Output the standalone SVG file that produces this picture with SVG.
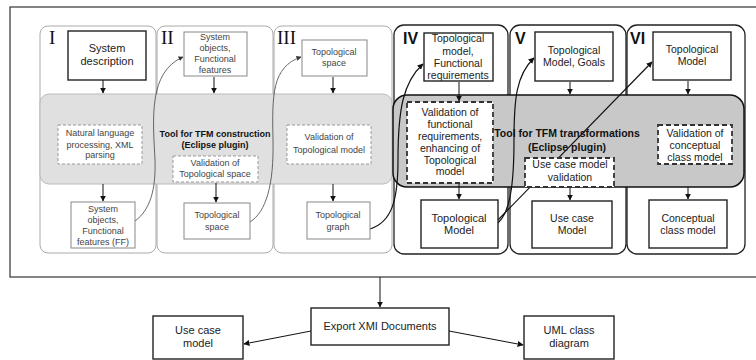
<svg xmlns="http://www.w3.org/2000/svg" width="756" height="360" viewBox="0 0 756 360">
<defs>
<marker id="ah" viewBox="0 0 10 10" refX="9" refY="5" markerWidth="6" markerHeight="6" orient="auto" markerUnits="userSpaceOnUse"><path d="M0,0 L10,5 L0,10 z" fill="#111"/></marker>
<marker id="ahs" viewBox="0 0 10 10" refX="9" refY="5" markerWidth="5" markerHeight="5" orient="auto" markerUnits="userSpaceOnUse"><path d="M0,0 L10,5 L0,10 z" fill="#333"/></marker>
</defs>
<style>
.pl{fill:#fff;stroke:#aaa;stroke-width:1}
.pd{fill:#fff;stroke:#222;stroke-width:1.3}
.bl{fill:#fff;stroke:#888;stroke-width:1}
.bd{fill:#fff;stroke:#222;stroke-width:1.4}
.dl{fill:#fff;stroke:#999;stroke-width:1;stroke-dasharray:3,2}
.dd{fill:#fff;stroke:#333;stroke-width:1.8;stroke-dasharray:5,3}
text{font-family:"Liberation Sans",Arial,sans-serif;text-anchor:middle}
.tl{font-size:9px;fill:#444}
.td{font-size:10.5px;fill:#222}
.tb{font-size:10.5px;fill:#111;font-weight:bold}
.tbs{font-size:9px;fill:#111;font-weight:bold}
.rs{font-family:"Liberation Serif","Times New Roman",serif;font-size:19px;fill:#111;text-anchor:start}
.rb{font-family:"Liberation Sans",Arial,sans-serif;font-size:16px;font-weight:bold;fill:#111;text-anchor:start}
.va{stroke:#111;stroke-width:1;fill:none;marker-end:url(#ah)}
.cl{stroke:#444;stroke-width:0.8;fill:none;marker-end:url(#ahs)}
.cd{stroke:#111;stroke-width:1.2;fill:none;marker-end:url(#ah)}
</style>
<rect width="756" height="360" fill="#fff"/>
<rect id="frame" x="10" y="7" width="756" height="270" fill="none" stroke="#333" stroke-width="1.2"/>

<g id="panels">
<rect x="40" y="26" width="116" height="227" rx="8" class="pl"/>
<rect x="157" y="26" width="116" height="227" rx="8" class="pl"/>
<rect x="274" y="26" width="118" height="227" rx="8" class="pl"/>
<rect x="394" y="25" width="114" height="229" rx="10" class="pd"/>
<rect x="510" y="25" width="116" height="229" rx="10" class="pd"/>
<rect x="627" y="25" width="118" height="229" rx="10" class="pd"/>
</g>
<g id="bands">
<rect x="40" y="94" width="352" height="90" rx="9" fill="#e0e0e0" stroke="#bbb" stroke-width="1"/>
<rect x="393" y="95" width="351" height="92" rx="14" fill="#c8c8c8" stroke="#111" stroke-width="1.5"/>
</g>
<g id="numerals">
<text x="49" y="44" class="rs">I</text>
<text x="161" y="44" class="rs">II</text>
<text x="277" y="44" class="rs">III</text>
<text x="403" y="44" class="rb">IV</text>
<text x="515" y="44" class="rb">V</text>
<text x="630" y="44" class="rb">VI</text>
</g>

<g id="connectors">
<path d="M103,80 V93" class="va"/>
<path d="M103,184 V201" class="va"/>
<path d="M214,77 V93" class="va"/>
<path d="M216,183 V202" class="va"/>
<path d="M333,77 V93" class="va"/>
<path d="M333,184 V201" class="va"/>
<path d="M459,82 V101" class="va"/>
<path d="M459,184 V199" class="va"/>
<path d="M570,82 V94" class="va"/>
<path d="M570,188 V200" class="va"/>
<path d="M688,81 V94" class="va"/>
<path d="M688,187 V199" class="va"/>
<path d="M135,221 C150,210 156,190 155,160 C153,120 148,72 183,57" class="cl"/>
<path d="M250,222 C266,212 274,185 273,140 C272,95 272,67 301,57" class="cl"/>
<path d="M370,229 C392,222 398,200 398,160 C398,110 403,82 423,64" class="cd"/>
<path d="M498,223 C510,212 514,185 514,140 C514,100 516,75 534,58" class="cd"/>
<path d="M498,220 L652,62" class="cd"/>
<path d="M380,277 V307" class="va"/>
<path d="M311,331 L244,344" class="va"/>
<path d="M449,331 L523,345" class="va"/>
</g>

<g id="n-sysdesc"><rect x="68" y="31" width="78" height="49" class="bd"/><text x="107" y="52" style="font-size:11px;fill:#222">System</text><text x="107" y="65" style="font-size:11px;fill:#222">description</text></g>
<g id="n-nlp"><rect x="58" y="125" width="84" height="39" class="dl"/><text x="100" y="136" class="tl">Natural language</text><text x="100" y="148" class="tl">processing, XML</text><text x="100" y="158" class="tl">parsing</text></g>
<g id="n-sysobj-ff"><rect x="71" y="202" width="64" height="46" class="bl"/><text x="103" y="212" class="tl">System</text><text x="103" y="223" class="tl">objects,</text><text x="103" y="234" class="tl">Functional</text><text x="103" y="245" class="tl">features (FF)</text></g>

<g id="n-sysobj"><rect x="184" y="32" width="63" height="44" class="bl"/><text x="215" y="40" class="tl">System</text><text x="215" y="51" class="tl">objects,</text><text x="215" y="62" class="tl">Functional</text><text x="215" y="73" class="tl">features</text></g>
<g id="n-tool1"><text x="215" y="137" class="tbs">Tool for TFM construction</text><text x="215" y="148" class="tbs">(Eclipse plugin)</text></g>
<g id="n-valtopspace"><rect x="173" y="156" width="85" height="26" class="dl"/><text x="215" y="166" class="tl">Validation of</text><text x="215" y="177" class="tl">Topological space</text></g>
<g id="n-topspace2"><rect x="184" y="203" width="66" height="36" class="bl"/><text x="217" y="218" class="tl">Topological</text><text x="217" y="230" class="tl">space</text></g>

<g id="n-topspace3"><rect x="302" y="40" width="65" height="36" class="bl"/><text x="334" y="55" class="tl">Topological</text><text x="334" y="66" class="tl">space</text></g>
<g id="n-valtopmodel"><rect x="287" y="125" width="84" height="39" class="dl"/><text x="329" y="140" class="tl">Validation of</text><text x="329" y="153" class="tl">Topological model</text></g>
<g id="n-topgraph"><rect x="307" y="202" width="63" height="37" class="bl"/><text x="338" y="218" class="tl">Topological</text><text x="338" y="230" class="tl">graph</text></g>

<g id="n-topfr"><rect x="424" y="33" width="69" height="48" class="bd"/><text x="458" y="42" class="td">Topological</text><text x="458" y="55" class="td">model,</text><text x="458" y="67" class="td">Functional</text><text x="458" y="79" class="td">requirements</text></g>
<g id="n-valfr"><rect x="407" y="102" width="86" height="81" class="dd"/><text x="450" y="116" class="td">Validation of</text><text x="450" y="128" class="td">functional</text><text x="450" y="140" class="td">requirements,</text><text x="450" y="152" class="td">enhancing of</text><text x="450" y="164" class="td">Topological</text><text x="450" y="175" class="td">model</text></g>
<g id="n-topmodel4"><rect x="421" y="200" width="77" height="48" class="bd"/><text x="459" y="222" style="font-size:11px;fill:#222">Topological</text><text x="459" y="234" style="font-size:11px;fill:#222">Model</text></g>

<g id="n-topgoals"><rect x="535" y="32" width="78" height="49" class="bd"/><text x="574" y="54" class="td">Topological</text><text x="574" y="66" class="td">Model, Goals</text></g>
<g id="n-tool2"><text x="567" y="137" class="tb">Tool for TFM transformations</text><text x="567" y="151" class="tb">(Eclipse plugin)</text></g>
<g id="n-valuc"><rect x="525" y="158" width="89" height="29" class="dd"/><text x="570" y="168" class="td">Use case model</text><text x="570" y="181" class="td">validation</text></g>
<g id="n-ucmodel"><rect x="532" y="201" width="80" height="47" class="bd"/><text x="572" y="222" class="td">Use case</text><text x="572" y="234" class="td">Model</text></g>

<g id="n-topmodel6"><rect x="653" y="32" width="78" height="48" class="bd"/><text x="692" y="53" class="td">Topological</text><text x="692" y="65" class="td">Model</text></g>
<g id="n-valccm"><rect x="658" y="125" width="74" height="39" class="dd"/><text x="695" y="137" class="td">Validation of</text><text x="695" y="149" class="td">conceptual</text><text x="695" y="161" class="td">class model</text></g>
<g id="n-ccm"><rect x="649" y="200" width="78" height="48" class="bd"/><text x="688" y="222" class="td">Conceptual</text><text x="688" y="234" class="td">class model</text></g>

<g id="n-export"><rect x="311" y="308" width="138" height="37" class="bd"/><text x="380" y="330" style="font-size:11px;fill:#222">Export XMI Documents</text></g>
<g id="n-ucm-out"><rect x="153" y="316" width="90" height="43" class="bd"/><text x="198" y="334" style="font-size:11px;fill:#222">Use case</text><text x="198" y="347" style="font-size:11px;fill:#222">model</text></g>
<g id="n-uml-out"><rect x="524" y="316" width="90" height="43" class="bd"/><text x="569" y="334" style="font-size:11px;fill:#222">UML class</text><text x="569" y="347" style="font-size:11px;fill:#222">diagram</text></g>
</svg>
